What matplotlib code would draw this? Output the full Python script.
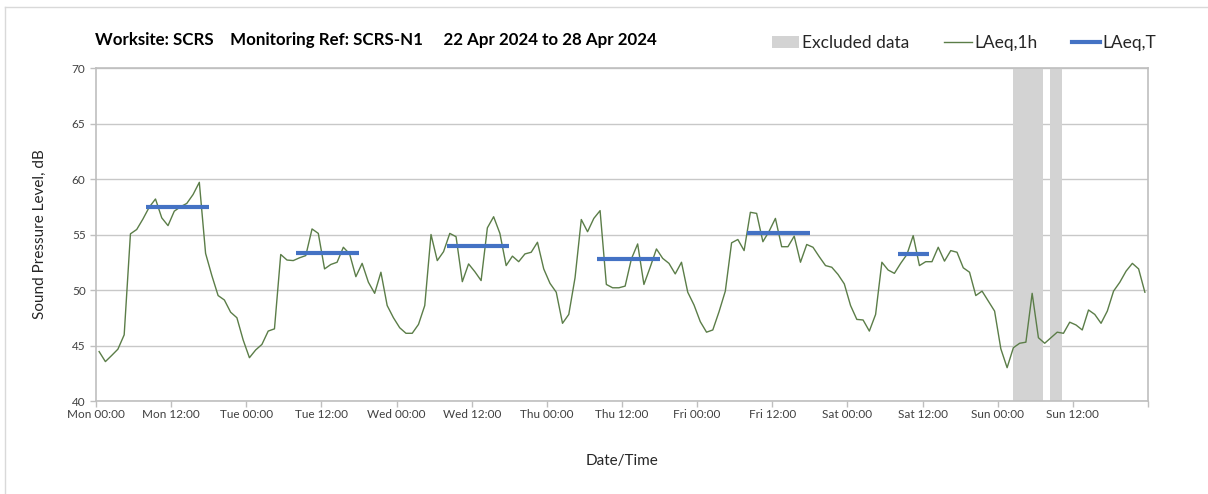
import matplotlib
matplotlib.use('Agg')
import matplotlib.pyplot as plt
import matplotlib.dates as mdates
from matplotlib.patches import Patch
from matplotlib.lines import Line2D
import numpy as np
import datetime as dt

# hourly LAeq,1h levels from Mon 22 Apr 2024 00:00, dB
laeq_1h = [
    44.45, 43.55, 44.1, 44.67, 45.96, 55.06, 55.45, 56.4, 57.46, 58.2, 56.5, 55.8,
    57.1, 57.5, 57.8, 58.6, 59.7, 53.3, 51.3, 49.5, 49.1, 48.0, 47.5, 45.5,
    43.9, 44.6, 45.1, 46.3, 46.5, 53.2, 52.7, 52.65, 52.9, 53.1, 55.5, 55.1,
    51.9, 52.3, 52.5, 53.85, 53.25, 51.2, 52.4, 50.7, 49.7, 51.6, 48.6, 47.5,
    46.6, 46.1, 46.1, 46.9, 48.6, 55.0, 52.65, 53.45, 55.1, 54.8, 50.75, 52.35,
    51.65, 50.85, 55.6, 56.6, 55.1, 52.2, 53.05, 52.55, 53.25, 53.4, 54.3, 51.9,
    50.6, 49.8, 47.0, 47.8, 51.1, 56.35, 55.25, 56.45, 57.15, 50.5, 50.2, 50.2,
    50.35, 52.8, 54.15, 50.5, 52.05, 53.7, 52.85, 52.4, 51.45, 52.5, 49.8, 48.65,
    47.15, 46.2, 46.4, 48.05, 49.9, 54.25, 54.55, 53.55, 57.0, 56.9, 54.35, 55.3,
    56.45, 53.9, 53.9, 54.85, 52.5, 54.1, 53.85, 53.0, 52.2, 52.05, 51.4, 50.55,
    48.6, 47.35, 47.3, 46.3, 47.8, 52.5, 51.8, 51.5, 52.4, 53.2, 54.9, 52.2,
    52.55, 52.55, 53.85, 52.6, 53.55, 53.4, 52.0, 51.6, 49.5, 49.9, 49.0, 48.1,
    44.7, 43.0, 44.8, 45.2, 45.3, 49.7, 45.7, 45.2, 45.7, 46.2, 46.1, 47.1,
    46.85, 46.4, 48.2, 47.8, 47.0, 48.1, 49.9, 50.7, 51.7, 52.4, 51.9, 49.8,
]

# LAeq,T for the working periods
period_start = ['2024-04-22 08:00', '2024-04-23 08:00', '2024-04-24 08:00',
                '2024-04-25 08:00', '2024-04-26 08:00', '2024-04-27 08:00']
period_end = ['2024-04-22 18:00', '2024-04-23 18:00', '2024-04-24 18:00',
              '2024-04-25 18:00', '2024-04-26 18:00', '2024-04-27 13:00']
laeq_t = [57.5, 53.3, 54.0, 52.8, 55.15, 53.2]

# periods excluded from assessment
excluded_start = ['2024-04-28 02:25', '2024-04-28 08:25']
excluded_end = ['2024-04-28 07:15', '2024-04-28 10:20']

fmt = '%Y-%m-%d %H:%M'
start = dt.datetime(2024, 4, 22)
end = start + dt.timedelta(days=7)
times = [start + dt.timedelta(hours=h, minutes=30) for h in range(len(laeq_1h))]

fig = plt.figure(figsize=(12.08, 4.94), dpi=100)
plt.rcParams['font.family'] = ['Lato', 'DejaVu Sans']
ax = fig.add_axes([96 / 1208, 1 - 401 / 494, 1052 / 1208, 333 / 494])

for s, e in zip(excluded_start, excluded_end):
    ax.axvspan(dt.datetime.strptime(s, fmt), dt.datetime.strptime(e, fmt),
               color='#d3d3d3', lw=0, zorder=1)

ax.plot(times, laeq_1h, color='#5b7d48', lw=1.0, zorder=3)

for s, e, v in zip(period_start, period_end, laeq_t):
    ax.plot([dt.datetime.strptime(s, fmt), dt.datetime.strptime(e, fmt)], [v, v],
            color='#4472c4', lw=3, solid_capstyle='butt', zorder=4)

ax.set_xlim(start, end)
ax.set_ylim(40, 70)
ax.set_yticks(np.arange(40, 71, 5))

# 12-hourly ticks, no label on the closing Monday
ticks = [start + dt.timedelta(hours=12 * i) for i in range(15)]
ax.set_xticks(ticks)
ax.set_xticklabels([t.strftime('%a %H:%M') if t < end else '' for t in ticks])
ax.xaxis.set_minor_locator(mdates.DayLocator())
ax.grid(axis='y', color='#c8c8c8', lw=1)
ax.grid(axis='x', which='minor', color='#dcdcdc', lw=1)
ax.set_axisbelow(True)

for side in ['left', 'bottom', 'right', 'top']:
    ax.spines[side].set_color('#bfbfbf')
    ax.spines[side].set_linewidth(1.2)
ax.tick_params(axis='both', colors='#bfbfbf', labelcolor='#404040', labelsize=8.5,
               length=4, width=1)
ax.tick_params(axis='x', which='minor', length=0)
ax.tick_params(axis='x', pad=2)

ax.set_ylabel('Sound Pressure Level, dB', fontsize=11, color='#262626', labelpad=18)
ax.set_xlabel('Date/Time', fontsize=11, color='#262626', labelpad=24)

fig.text(95 / 1208, 1 - 40 / 494, 'Worksite: SCRS    Monitoring Ref: SCRS-N1     22 Apr 2024 to 28 Apr 2024',
         fontsize=12.2, fontweight='bold', color='black', va='center', ha='left')

handles = [Patch(facecolor='#d3d3d3', edgecolor='none'),
           Line2D([], [], color='#5b7d48', lw=1),
           Line2D([], [], color='#4472c4', lw=3)]
fig.legend(handles, ['Excluded data', 'LAeq,1h', 'LAeq,T'], loc='center right',
           bbox_to_anchor=(1172 / 1208, 1 - 43 / 494), ncol=3, frameon=False,
           fontsize=12.5, handlelength=1.6, handletextpad=0.15, columnspacing=2.0,
           labelcolor='#262626')

# outer chart frame
fig.add_artist(Line2D([5 / 1208, 5 / 1208], [0, 1 - 7 / 494], color='#d9d9d9', lw=1))
fig.add_artist(Line2D([5 / 1208, 1], [1 - 7 / 494, 1 - 7 / 494], color='#d9d9d9', lw=1))

fig.savefig('out.png', dpi=100)
